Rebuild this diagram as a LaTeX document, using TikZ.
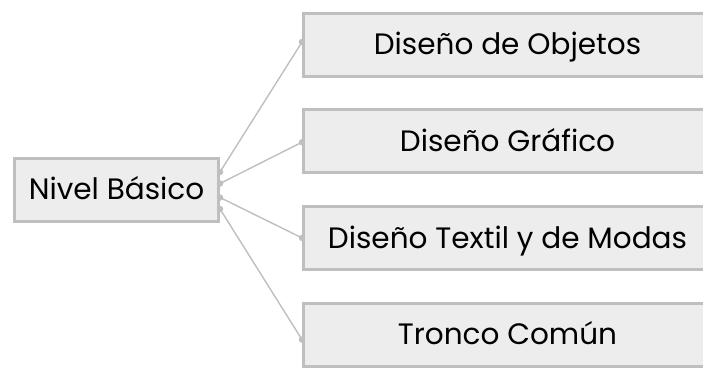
\documentclass[tikz,border=0pt]{standalone}
\usepackage{fontspec}
\setmainfont{Poppins}
\usetikzlibrary{positioning}
\definecolor{boxfill}{HTML}{EDEDED}
\definecolor{boxline}{HTML}{BFBFBF}

\begin{document}
\begin{tikzpicture}[
  x=1pt, y=-1pt,
  nivel/.style={draw=boxline, line width=3pt, fill=boxfill, inner sep=0pt,
    minimum width=204pt, minimum height=63pt, text height=20.6pt, text depth=0pt,
    font=\fontsize{29.5}{34}\selectfont},
  rama/.style={nivel, minimum width=408pt},
  enlace/.style={draw=boxline, line width=1.4pt},
  punto/.style={circle, fill=boxline, inner sep=0pt, minimum size=6.5pt},
]
  \useasboundingbox (0,0) rectangle (703,367);

  % Root
  \node[nivel] (basico) at (116.5,189.5) {Nivel Básico};

  % Branches
  \node[rama] (r1) at (507.5,44.5) {Diseño de Objetos};
  \node[rama, below=30.7pt of r1] (r2) {Diseño Gráfico};
  \node[rama, below=30.7pt of r2] (r3) {Diseño Textil y de Modas};
  \node[rama, below=30.7pt of r3] (r4) {Tronco Común};

  % Connectors with end dots
  \foreach \i/\sy/\ey in {1/17.5/2.5, 2/6/-1, 3/-8/0, 4/-19.5/-5} {
    \draw[enlace] ([yshift=\sy pt]basico.east) coordinate (s\i)
      -- ([yshift=\ey pt]r\i.west) coordinate (e\i);
    \node[punto] at (s\i) {};
    \node[punto] at (e\i) {};
  }
\end{tikzpicture}
\end{document}
